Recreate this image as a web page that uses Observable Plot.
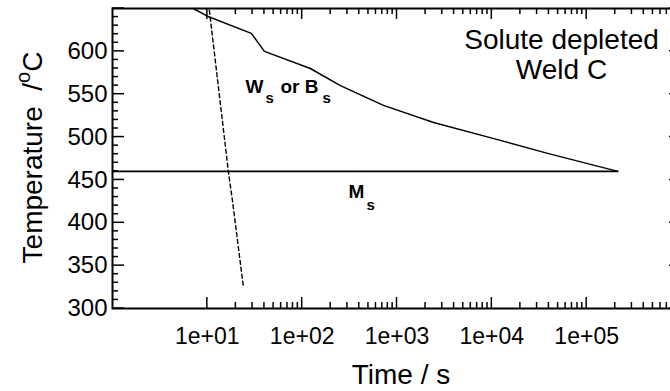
<!DOCTYPE html>
<html>
<head>
<meta charset="utf-8">
<script src="https://cdn.jsdelivr.net/npm/d3@7"></script>
<script src="https://cdn.jsdelivr.net/npm/@observablehq/plot@0.6"></script>
<style>
  html, body { margin: 0; padding: 0; background: #fff; overflow: hidden; }
  #chart svg { display: block; max-width: none !important; font-family: "Liberation Sans", Arial, Helvetica, sans-serif; }
</style>
</head>
<body>
<div id="chart"></div>
<script>
// Ws / Bs curve (time in s, temperature in °C)
const wsTime = [7.1, 10.5, 29.1, 40, 122, 253, 720, 2430, 11500, 38800, 213000];
const wsTemp = [650, 640, 621, 600, 580, 560, 537, 517, 497, 481, 460];
// Ms line
const msTime = [1, 213000];
const msTemp = [460, 460];
// Dashed cooling curve
const coolTime = [10.5, 16.7, 18.4, 24];
const coolTemp = [648, 459, 426, 325];

// Axis ticks
const xTickValues = [10, 100, 1000, 10000, 100000];
const xTickLabels = ["1e+01", "1e+02", "1e+03", "1e+04", "1e+05"];
const xMajorTicks = [10, 100, 1000, 10000, 100000, 1000000];
const xMinorTicks = [10, 100, 1000, 10000, 100000].flatMap(p => [2,3,4,5,6,7,8,9].map(m => m * p));
const yTickValues = [300, 350, 400, 450, 500, 550, 600];
const yMajorTicks = [300, 350, 400, 450, 500, 550, 600, 650];
const yMinorTicks = d3.range(300, 651, 10).filter(v => v % 50 !== 0);

const ws = wsTime.map((t, i) => ({time: t, temp: wsTemp[i]}));
const ms = msTime.map((t, i) => ({time: t, temp: msTemp[i]}));
const cool = coolTime.map((t, i) => ({time: t, temp: coolTemp[i]}));

const W = 700, H = 391, ML = 112, MR = 19, MT = 8, MB = 83;
const FW = W - ML - MR, FH = H - MT - MB;

const chart = Plot.plot({
  width: W,
  height: H,
  marginLeft: ML,
  marginRight: MR,
  marginTop: MT,
  marginBottom: MB,
  style: {background: "#fff", color: "#000"},
  x: {type: "log", domain: [1, 1e6]},
  y: {domain: [300, 650]},
  marks: [
    // tick labels
    Plot.axisX(xTickValues, {anchor: "bottom", tickSize: 0, tickPadding: 19, fontSize: 23,
      tickFormat: d => xTickLabels[xTickValues.indexOf(d)], label: null}),
    Plot.axisY(yTickValues, {anchor: "left", tickSize: 0, tickPadding: 5, fontSize: 24, label: null}),
    // data
    Plot.line(ms, {x: "time", y: "temp", stroke: "#000", strokeWidth: 1.6}),
    Plot.line(ws, {x: "time", y: "temp", stroke: "#000", strokeWidth: 1.5}),
    Plot.line(cool, {x: "time", y: "temp", stroke: "#000", strokeWidth: 1.4, strokeDasharray: "4,3"}),
    // annotations
    Plot.text(["Solute depleted\nWeld C"], {frameAnchor: "top-left", dx: 449, dy: 46, text: d => d,
      textAnchor: "middle", lineAnchor: "middle", lineHeight: 1.07, fontSize: 28, fill: "#000"}),
    Plot.text(["W"], {frameAnchor: "top-left", dx: 133, dy: 84, text: d => d, textAnchor: "start",
      lineAnchor: "bottom", fontSize: 19, fontWeight: "bold", fill: "#000"}),
    Plot.text(["s"], {frameAnchor: "top-left", dx: 153, dy: 94, text: d => d, textAnchor: "start",
      lineAnchor: "bottom", fontSize: 15, fontWeight: "bold", fill: "#000"}),
    Plot.text(["or B"], {frameAnchor: "top-left", dx: 168, dy: 84, text: d => d, textAnchor: "start",
      lineAnchor: "bottom", fontSize: 19, fontWeight: "bold", fill: "#000"}),
    Plot.text(["s"], {frameAnchor: "top-left", dx: 210, dy: 94, text: d => d, textAnchor: "start",
      lineAnchor: "bottom", fontSize: 15, fontWeight: "bold", fill: "#000"}),
    Plot.text(["M"], {frameAnchor: "top-left", dx: 236, dy: 189, text: d => d, textAnchor: "start",
      lineAnchor: "bottom", fontSize: 19, fontWeight: "bold", fill: "#000"}),
    Plot.text(["s"], {frameAnchor: "top-left", dx: 254, dy: 201, text: d => d, textAnchor: "start",
      lineAnchor: "bottom", fontSize: 15, fontWeight: "bold", fill: "#000"}),
    // x axis title
    Plot.text(["Time / s"], {frameAnchor: "bottom", dx: 4, dy: 75, text: d => d, textAnchor: "middle",
      lineAnchor: "bottom", fontSize: 28, fill: "#000"}),
    Plot.frame({stroke: "#000", strokeWidth: 2})
  ]
});

document.getElementById("chart").appendChild(chart);

const svg = d3.select(chart);

// inward ticks on all four sides, positioned with the plot's own scales
const sx = chart.scale("x"), sy = chart.scale("y");
const x0 = ML, x1 = ML + FW, y0 = MT, y1 = MT + FH;
const tg = svg.append("g").attr("stroke", "#000").attr("stroke-width", 1.5);
const addXTicks = (vals, len) => vals.forEach(v => {
  const px = sx.apply(v);
  tg.append("line").attr("x1", px).attr("x2", px).attr("y1", y1).attr("y2", y1 - len);
  tg.append("line").attr("x1", px).attr("x2", px).attr("y1", y0).attr("y2", y0 + len);
});
const addYTicks = (vals, len) => vals.forEach(v => {
  const py = sy.apply(v);
  tg.append("line").attr("x1", x0).attr("x2", x0 + len).attr("y1", py).attr("y2", py);
  tg.append("line").attr("x1", x1).attr("x2", x1 - len).attr("y1", py).attr("y2", py);
});
addXTicks(xMajorTicks, 11);
addXTicks(xMinorTicks, 6);
addYTicks(yMajorTicks, 12);
addYTicks(yMinorTicks, 6);

// y axis title with superscript
const t = svg.append("text")
  .attr("transform", "translate(42,157.5) rotate(-90)")
  .attr("text-anchor", "middle")
  .attr("font-size", 28)
  .attr("fill", "#000")
  .style("white-space", "pre");
t.append("tspan").text("Temperature  /");
t.append("tspan").attr("font-size", 20).attr("dy", -12).text("o");
t.append("tspan").attr("dy", 12).text("C");
</script>
</body>
</html>
